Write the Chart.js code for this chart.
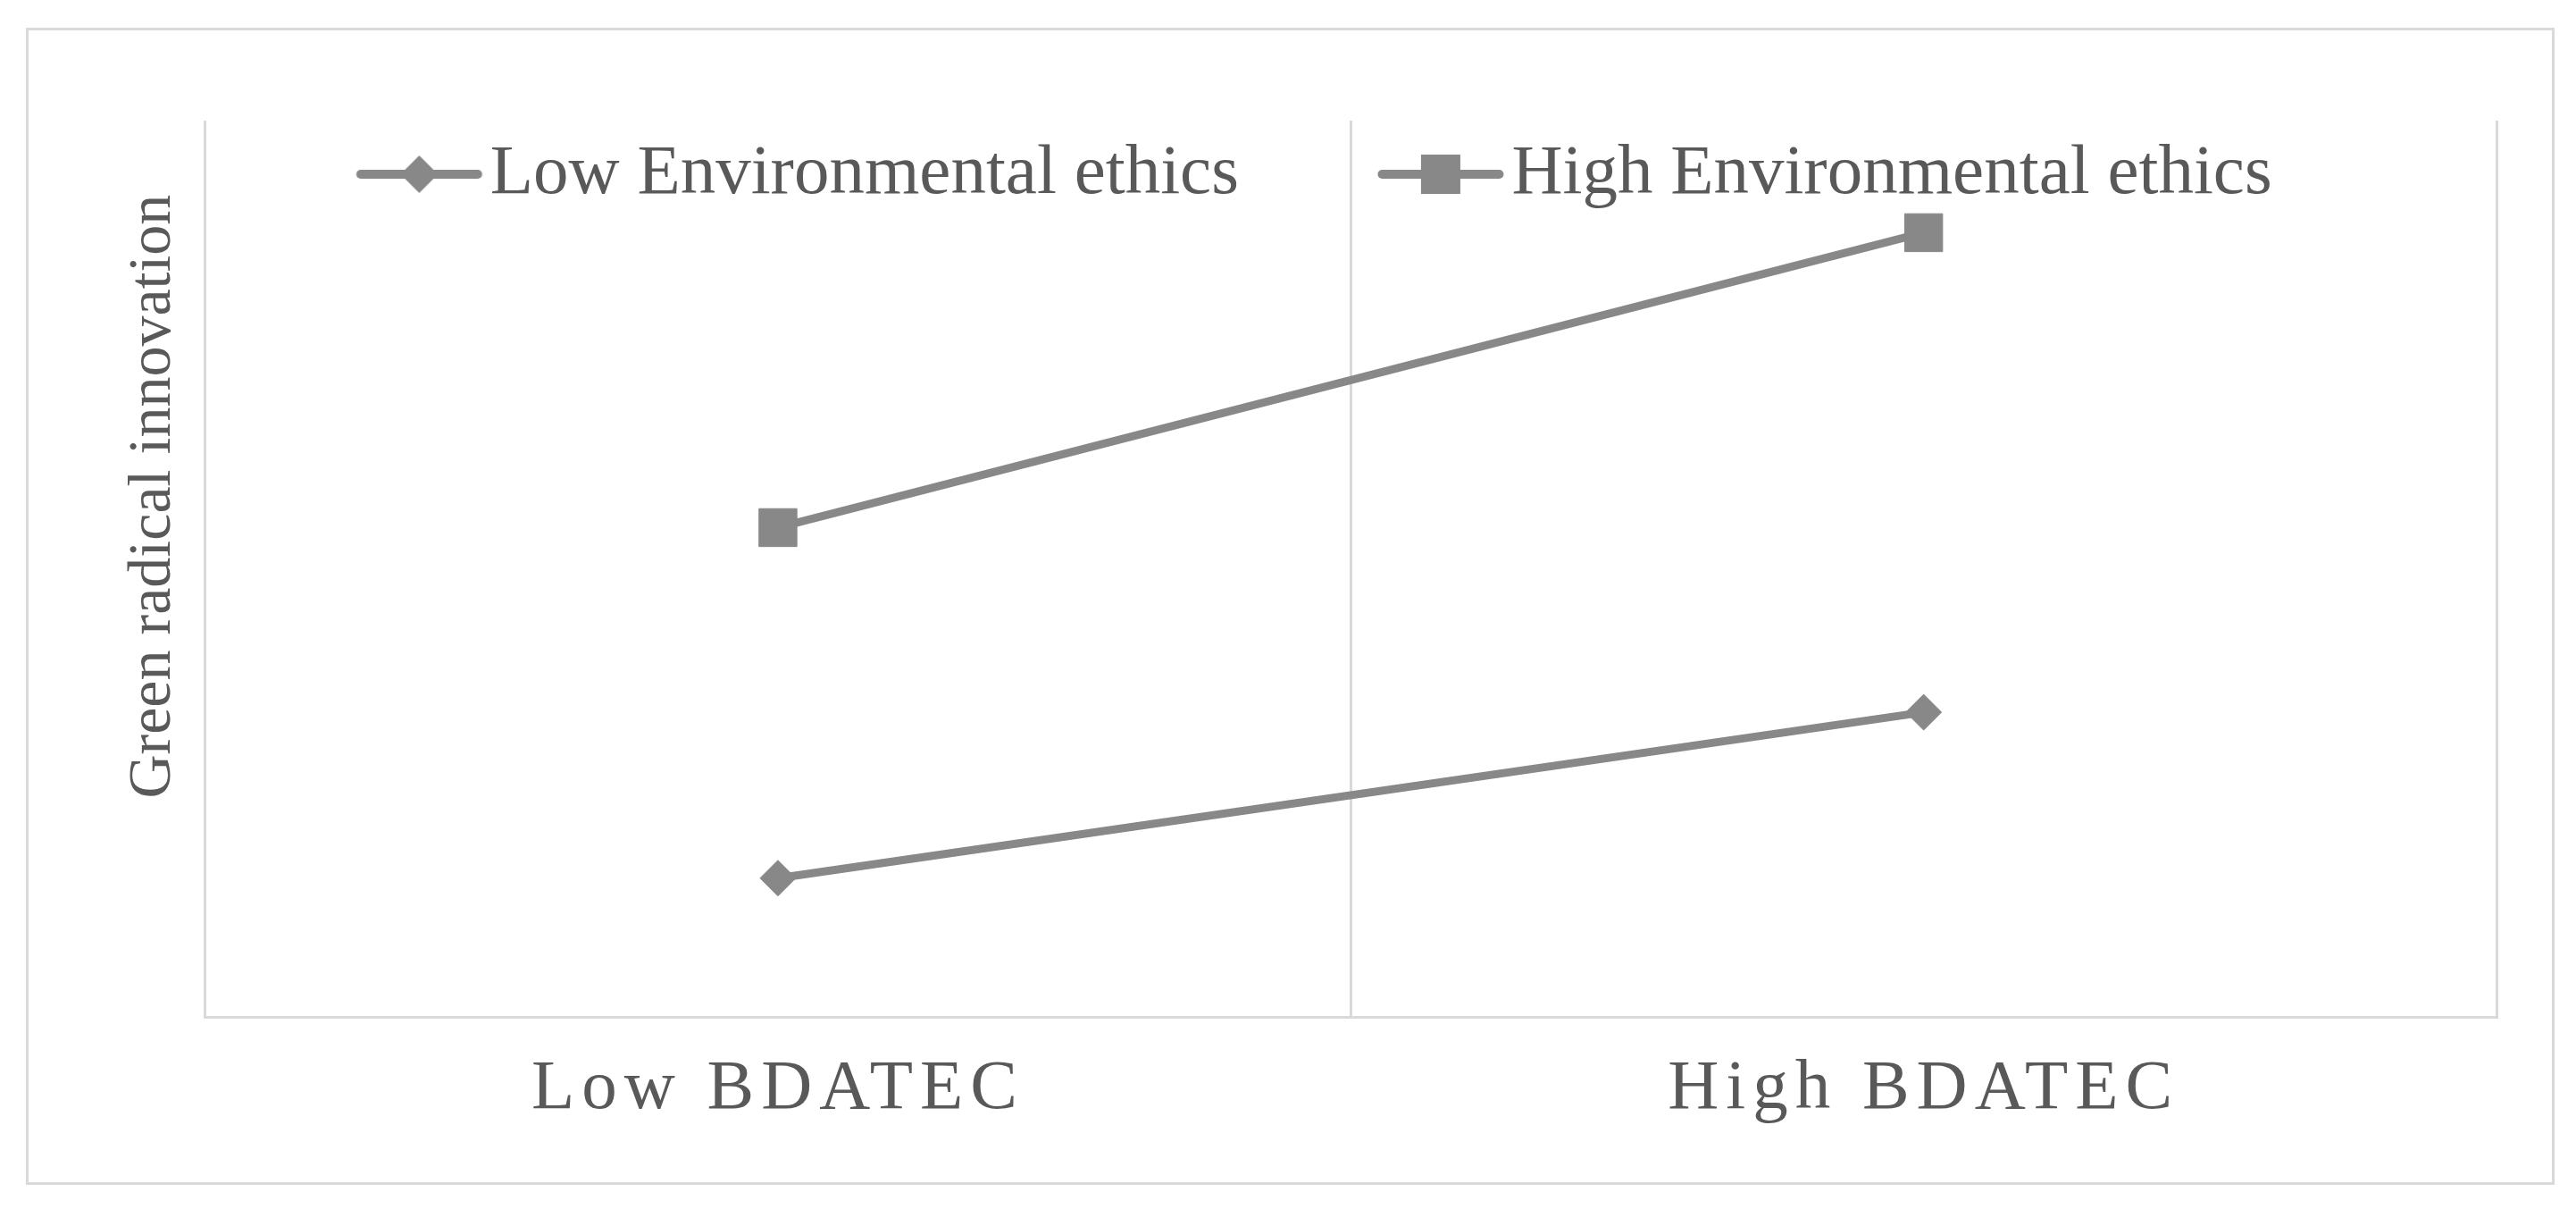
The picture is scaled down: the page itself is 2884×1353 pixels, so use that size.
<!DOCTYPE html>
<html lang="en">
<head>
<meta charset="utf-8">
<title>Green radical innovation</title>
<script src="https://cdn.jsdelivr.net/npm/chart.js@4.4.1/dist/chart.umd.min.js"></script>
<style>
    html, body { margin: 0; padding: 0; background: #ffffff; }
    #frame {
        position: absolute; left: 29px; top: 31px;
        width: 2825px; height: 1289px;
        border: 3px solid #d9d9d9;
    }
    #chart { position: absolute; left: 0; top: 0; }
</style>
</head>
<body>
<div id="frame"></div>
<canvas id="chart" width="2884" height="1353"></canvas>
<script>
const categories = ['Low BDATEC', 'High BDATEC'];
const seriesLabels = ['Low Environmental ethics', 'High Environmental ethics'];
const lowEthicsValues = [1.55, 3.40];
const highEthicsValues = [5.46, 8.75];
const yAxisTitle = 'Green radical innovation';
const yRange = [0, 10];

const lineColor = '#888888';
const textColor = '#595959';
const gridColor = '#d9d9d9';
const fontFamily = "'Liberation Serif', 'Times New Roman', serif";
const legendFontSize = 79;
const legendCenterY = 195;
const legendShiftX = 29;
const yTitleShift = -81;

// legend icon: short line with the series marker on it
function makeLegendSwatch(style) {
    const c = document.createElement('canvas');
    c.width = 150;
    c.height = 60;
    const g = c.getContext('2d');
    g.strokeStyle = lineColor;
    g.fillStyle = lineColor;
    g.lineWidth = 10;
    g.lineCap = 'round';
    g.beginPath();
    g.moveTo(9.5, 30);
    g.lineTo(140.5, 30);
    g.stroke();
    g.beginPath();
    if (style === 'rectRot') {
        g.moveTo(75, 9); g.lineTo(96, 30); g.lineTo(75, 51); g.lineTo(54, 30);
    } else {
        g.rect(53, 8, 44, 44);
    }
    g.closePath();
    g.fill();
    return c;
}

const swatches = [makeLegendSwatch('rectRot'), makeLegendSwatch('rect')];
const defaultLabels = Chart.defaults.plugins.legend.labels.generateLabels;

const layoutTweaks = {
    id: 'layoutTweaks',
    afterLayout(chart) {
        // legend sits inside the plot, over the top of the grid lines
        const lg = chart.legend;
        const top = legendCenterY - lg.options.labels.padding - legendFontSize / 2;
        lg.top = top;
        lg.bottom = legendCenterY + legendFontSize;
        lg.left += legendShiftX;
        lg.right += legendShiftX;
        const y = chart.scales.y;
        y.top += yTitleShift;
        y.bottom += yTitleShift;
    },
    beforeDraw(chart) {
        const xs = chart.scales.x;
        if (xs._spaced) return;
        const orig = xs.drawLabels.bind(xs);
        xs.drawLabels = function (area) {
            const c = this.ctx;
            c.save();
            c.letterSpacing = '8px';
            orig(area);
            c.restore();
        };
        xs._spaced = true;
    }
};

const ctx = document.getElementById('chart').getContext('2d');
new Chart(ctx, {
    type: 'line',
    data: {
        labels: categories,
        datasets: [{
            label: seriesLabels[0],
            data: lowEthicsValues,
            borderColor: lineColor,
            backgroundColor: lineColor,
            borderWidth: 9,
            pointStyle: 'rectRot',
            pointRadius: 20,
            pointBorderWidth: 1,
            tension: 0,
            clip: false
        }, {
            label: seriesLabels[1],
            data: highEthicsValues,
            borderColor: lineColor,
            backgroundColor: lineColor,
            borderWidth: 9,
            pointStyle: 'rect',
            pointRadius: 30,
            pointBorderWidth: 1,
            tension: 0,
            clip: false
        }]
    },
    options: {
        responsive: false,
        animation: false,
        events: [],
        layout: {
            padding: { left: 120, right: 89, top: 134, bottom: 52 }
        },
        plugins: {
            tooltip: { enabled: false },
            legend: {
                display: true,
                position: 'top',
                maxHeight: 1,
                labels: {
                    usePointStyle: true,
                    pointStyleWidth: 80,
                    padding: 186,
                    color: textColor,
                    font: { family: fontFamily, size: legendFontSize },
                    generateLabels(chart) {
                        return defaultLabels(chart).map((item, i) => {
                            item.pointStyle = swatches[i];
                            return item;
                        });
                    }
                }
            }
        },
        scales: {
            x: {
                offset: true,
                grid: {
                    offset: true,
                    color: gridColor,
                    lineWidth: 3,
                    drawTicks: false
                },
                border: { color: gridColor, width: 3 },
                ticks: {
                    color: textColor,
                    padding: 34,
                    font: { family: fontFamily, size: 79 }
                }
            },
            y: {
                min: yRange[0],
                max: yRange[1],
                grid: { display: false, drawTicks: false },
                border: { display: false },
                ticks: { display: false },
                title: {
                    display: true,
                    text: yAxisTitle,
                    color: textColor,
                    padding: { top: 11, bottom: 17 },
                    font: { family: fontFamily, size: 68 }
                }
            }
        }
    },
    plugins: [layoutTweaks]
});
</script>
</body>
</html>
